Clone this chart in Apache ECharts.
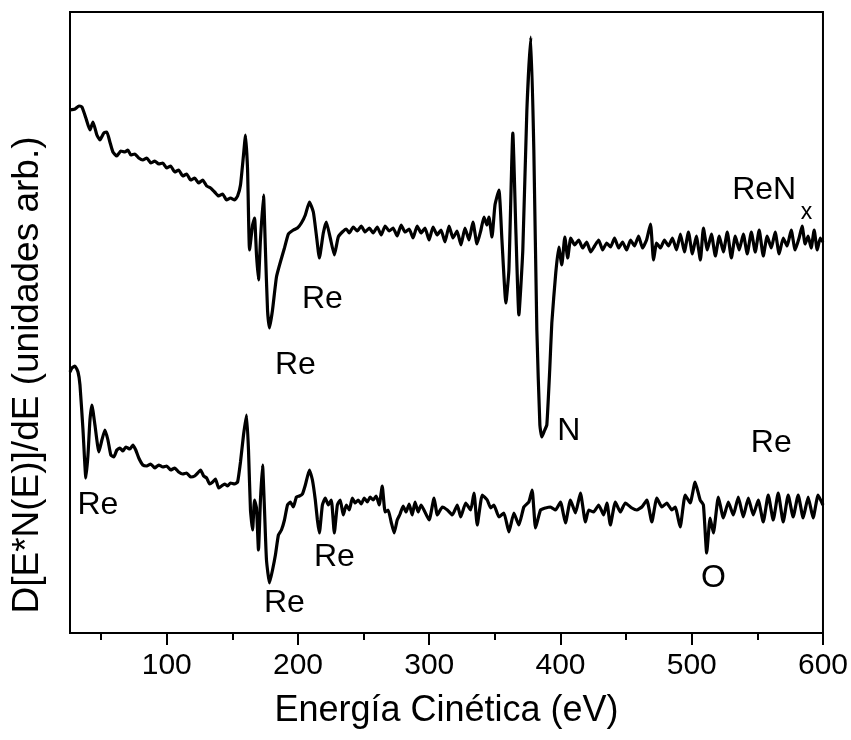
<!DOCTYPE html>
<html>
<head>
<meta charset="utf-8">
<script src="https://cdn.jsdelivr.net/npm/echarts@6/dist/echarts.min.js"></script>
<style>
  html, body { margin: 0; padding: 0; background: #fff; }
  #chart { width: 851px; height: 740px; }
</style>
</head>
<body>
<div id="chart"></div>
<script>
// eje x: energía (eV); eje y: unidades arbitrarias (0 = borde inferior)
var xMin = 26.3
var xMax = 600
var xTicks = [100, 200, 300, 400, 500, 600]
var xMinorTicks = [50, 150, 250, 350, 450, 550]

// espectro ReNx (curva superior)
var reNx = [
  [26.3, 523], [30.1, 524], [33.1, 527], [35.4, 526], [38.4, 515], [41.5, 503], [43.8, 511],
  [46.8, 498], [49.1, 493], [52.1, 500], [54.4, 501], [56.7, 491], [59.0, 481], [62.0, 477],
  [65.0, 482], [68.1, 481], [70.4, 483], [72.6, 478], [75.7, 479], [78.7, 475], [81.8, 473],
  [84.8, 475], [87.8, 470], [90.9, 472], [93.9, 469], [97.0, 470], [100, 465], [103, 467],
  [106.1, 461], [109.1, 463], [112.2, 457], [115.2, 459], [118.2, 453], [121.3, 455],
  [124.3, 450], [127.4, 453], [130.4, 447], [133.4, 445], [136.5, 441], [139.5, 437],
  [142.6, 439], [145.6, 433], [148.6, 435], [151.7, 433], [154.0, 437], [156.2, 448],
  [158.5, 478], [160.0, 498], [161.6, 463], [163.1, 383], [165.4, 408], [166.9, 415],
  [168.4, 378], [169.9, 353], [171.4, 393], [173.7, 438], [175.2, 383], [176.8, 323],
  [178.3, 305], [180.6, 323], [183.6, 356], [186.6, 371], [189.7, 385], [192.7, 399],
  [196.5, 403], [199.6, 405], [202.6, 410], [205.6, 418], [208.7, 431], [211.7, 421],
  [214.0, 398], [216.3, 375], [219.3, 400], [221.6, 411], [224.6, 395], [227.7, 378],
  [230.7, 396], [233.8, 401], [236.8, 404], [239.1, 400], [242.1, 406], [245.2, 402],
  [248.2, 407], [251.2, 401], [254.3, 405], [257.3, 400], [260.4, 406], [263.4, 398],
  [266.4, 407], [269.5, 402], [272.5, 405], [275.6, 397], [278.6, 408], [281.6, 401],
  [284.7, 404], [287.7, 395], [290.8, 407], [293.8, 400], [296.8, 405], [299.9, 393],
  [302.9, 406], [306.0, 398], [309.0, 403], [312.0, 391], [315.1, 407], [318.1, 395],
  [321.2, 402], [324.2, 388], [327.2, 405], [330.3, 393], [333.3, 411], [336.4, 389],
  [339.4, 403], [341.7, 416], [344.0, 408], [345.5, 416], [347.8, 396], [350.1, 428],
  [353.1, 443], [355.4, 393], [358.4, 330], [360.7, 363], [363.7, 500], [366.0, 403],
  [368.3, 318], [371.3, 383], [374.4, 523], [377.4, 596], [379.7, 483], [382.0, 303],
  [384.3, 208], [385.8, 196], [388.0, 203], [389.6, 208], [391.8, 263], [393.4, 310],
  [396.4, 360], [398.7, 386], [401.0, 368], [403.3, 396], [405.5, 375], [407.8, 395],
  [410.8, 388], [413.9, 393], [416.9, 385], [420.0, 391], [423.0, 381], [426.0, 387],
  [429.1, 393], [432.1, 383], [435.2, 390], [438.2, 386], [441.2, 395], [444.3, 385],
  [447.3, 391], [450.4, 383], [453.4, 393], [456.4, 387], [459.5, 397], [462.5, 385],
  [465.6, 393], [468.6, 409], [470.9, 373], [473.2, 390], [476.2, 385], [479.2, 393],
  [482.3, 387], [485.3, 395], [488.4, 383], [491.4, 399], [494.4, 381], [497.5, 401],
  [500.5, 379], [503.5, 397], [506.6, 373], [508.9, 405], [511.9, 383], [515.0, 399],
  [518.0, 377], [521.0, 397], [524.1, 381], [527.1, 401], [530.2, 375], [533.2, 397],
  [536.2, 383], [539.3, 399], [542.3, 379], [545.4, 401], [548.4, 381], [551.4, 403],
  [554.5, 377], [557.5, 397], [560.6, 385], [563.6, 401], [566.6, 379], [569.7, 395],
  [572.7, 387], [575.8, 403], [578.8, 383], [581.8, 395], [584.1, 407], [586.4, 389],
  [588.7, 397], [591.0, 385], [593.3, 403], [595.6, 383], [597.9, 395], [600, 391]
]

// espectro Re (curva inferior)
var re = [
  [26.3, 261], [27.8, 265], [30.1, 267], [32.4, 261], [33.9, 248], [36.2, 203], [38.4, 155],
  [40.0, 178], [41.5, 213], [43.0, 228], [45.3, 208], [48.3, 181], [50.6, 193], [52.9, 203],
  [55.2, 193], [57.4, 178], [59.7, 176], [62.0, 183], [64.3, 185], [66.6, 182], [68.8, 186],
  [71.9, 184], [74.2, 188], [76.4, 183], [78.7, 175], [81.8, 168], [84.8, 167], [87.8, 169],
  [90.9, 165], [93.9, 168], [97.0, 166], [100, 167], [103.0, 163], [106.1, 165], [109.1, 161],
  [112.2, 159], [115.2, 160], [118.2, 156], [121.3, 157], [124.3, 161], [125.8, 163],
  [128.1, 157], [130.4, 155], [132.7, 149], [135.0, 151], [137.2, 154], [139.5, 145],
  [141.8, 147], [144.1, 149], [146.4, 147], [148.6, 150], [151.7, 149], [154.0, 151],
  [156.2, 171], [158.5, 198], [160.8, 218], [162.3, 183], [163.8, 123], [165.4, 103],
  [166.9, 133], [168.4, 125], [169.9, 83], [171.4, 133], [173.0, 168], [174.5, 123],
  [176.0, 73], [178.3, 50], [180.6, 63], [182.8, 78], [185.1, 98], [187.4, 103], [189.7, 113],
  [192.0, 128], [194.2, 131], [196.5, 126], [198.8, 136], [201.1, 137], [203.4, 139],
  [205.6, 148], [208.7, 163], [211.0, 153], [213.2, 133], [214.8, 113], [216.3, 100],
  [218.6, 128], [220.8, 135], [223.1, 128], [225.4, 133], [227.7, 100], [230.0, 128],
  [232.2, 133], [234.5, 118], [236.8, 128], [239.1, 123], [241.4, 135], [243.6, 130],
  [245.9, 133], [248.2, 129], [250.5, 135], [252.8, 131], [255.0, 136], [257.3, 133],
  [259.6, 137], [261.9, 128], [264.2, 147], [266.4, 121], [268.7, 123], [271.0, 111],
  [273.3, 100], [275.6, 113], [277.8, 119], [280.1, 127], [282.4, 121], [284.7, 129],
  [287.0, 118], [289.2, 131], [291.5, 121], [293.8, 128], [299.9, 113], [303.7, 135],
  [306.2, 118], [310.0, 126], [313.8, 123], [317.6, 118], [321.4, 128], [324.0, 116],
  [327.8, 130], [331.6, 123], [334.1, 140], [336.6, 108], [340.4, 138], [344.2, 133],
  [346.8, 125], [349.3, 128], [353.1, 116], [356.9, 120], [360.7, 101], [364.5, 120],
  [368.3, 108], [372.1, 126], [375.9, 131], [378.4, 143], [381.0, 105], [384.8, 123],
  [388.6, 125], [392.4, 126], [396.2, 123], [400.0, 131], [403.8, 110], [407.6, 133],
  [411.4, 120], [415.2, 140], [419.0, 111], [421.5, 123], [425.3, 121], [429.1, 128],
  [432.9, 118], [435.4, 130], [438.0, 108], [441.8, 131], [445.6, 121], [449.4, 130],
  [454.4, 125], [458.2, 123], [462.0, 126], [465.8, 133], [469.6, 111], [473.4, 135],
  [477.2, 126], [481.0, 130], [484.8, 123], [487.4, 126], [491.2, 106], [495.0, 138],
  [498.8, 130], [502.6, 151], [506.4, 133], [508.9, 128], [511.4, 80], [514.0, 115],
  [516.5, 100], [520.3, 136], [524.1, 115], [527.9, 131], [531.7, 118], [535.5, 136],
  [539.3, 116], [543.1, 135], [546.9, 118], [550.7, 133], [554.5, 111], [558.3, 138],
  [562.1, 113], [565.9, 140], [569.7, 111], [573.5, 138], [577.3, 116], [581.1, 138],
  [584.9, 115], [588.7, 136], [592.5, 115], [596.3, 138], [600, 128]
]

// etiquetas de los picos: [energía, valor, texto]
var peakLabels = [
  [218.6, 334, 'Re'], [198.0, 268, 'Re'], [406.3, 202, 'N'], [560.6, 190, 'Re'],
  [555.2, 443, 'ReN'], [47.6, 128, 'Re'], [227.7, 76, 'Re'], [189.7, 30, 'Re'], [516.5, 55, 'O']
]
var subLabels = [[587.5, 420, 'x']]

var font = '"Liberation Sans", Arial, Helvetica, sans-serif'

var myChart = echarts.init(document.getElementById('chart'))

function labelSeries (data, size) {
  return {
    type: 'scatter',
    data: data,
    symbolSize: 0,
    silent: true,
    z: 5,
    clip: false,
    itemStyle: { opacity: 1 },
    label: {
      show: true,
      position: 'inside',
      formatter: function (p) { return p.data[2] },
      color: '#000',
      opacity: 1,
      textBorderWidth: 0,
      fontSize: size,
      fontFamily: font
    }
  }
}

var option = {
  animation: false,
  backgroundColor: '#fff',
  grid: {
    left: 70,
    right: 26,
    top: 12,
    bottom: 107,
    show: true,
    borderColor: '#000',
    borderWidth: 2
  },
  xAxis: [{
    type: 'value',
    min: xMin,
    max: xMax,
    name: 'Energía Cinética (eV)',
    nameLocation: 'middle',
    nameGap: 60,
    nameTextStyle: { color: '#000', fontSize: 36, fontFamily: font },
    axisLine: { show: true, lineStyle: { color: '#000', width: 2 } },
    axisTick: { show: true, customValues: xTicks, length: 12, lineStyle: { color: '#000', width: 2 } },
    axisLabel: { show: true, customValues: xTicks, color: '#000', fontSize: 30, fontFamily: font, margin: 18 },
    splitLine: { show: false }
  }, {
    type: 'value',
    min: xMin,
    max: xMax,
    position: 'bottom',
    axisLine: { show: false },
    axisTick: { show: true, customValues: xMinorTicks, length: 7, lineStyle: { color: '#000', width: 2 } },
    axisLabel: { show: false },
    splitLine: { show: false }
  }],
  yAxis: {
    type: 'value',
    min: 0,
    max: 621,
    axisLine: { show: true, lineStyle: { color: '#000', width: 2 } },
    axisTick: { show: false },
    axisLabel: { show: false },
    splitLine: { show: false }
  },
  graphic: [{
    type: 'text',
    x: 28,
    y: 375,
    rotation: Math.PI / 2,
    style: {
      text: 'D[E*N(E)]/dE (unidades arb.)',
      fill: '#000',
      font: '37px ' + font,
      textAlign: 'center',
      textVerticalAlign: 'middle'
    }
  }],
  series: [{
    type: 'line',
    data: reNx,
    showSymbol: false,
    smooth: 0.15,
    lineStyle: { color: '#000', width: 3.2 }
  }, {
    type: 'line',
    data: re,
    showSymbol: false,
    smooth: 0.15,
    lineStyle: { color: '#000', width: 3.2 }
  },
  labelSeries(peakLabels, 32),
  labelSeries(subLabels, 23)]
}

myChart.setOption(option)
</script>
</body>
</html>
